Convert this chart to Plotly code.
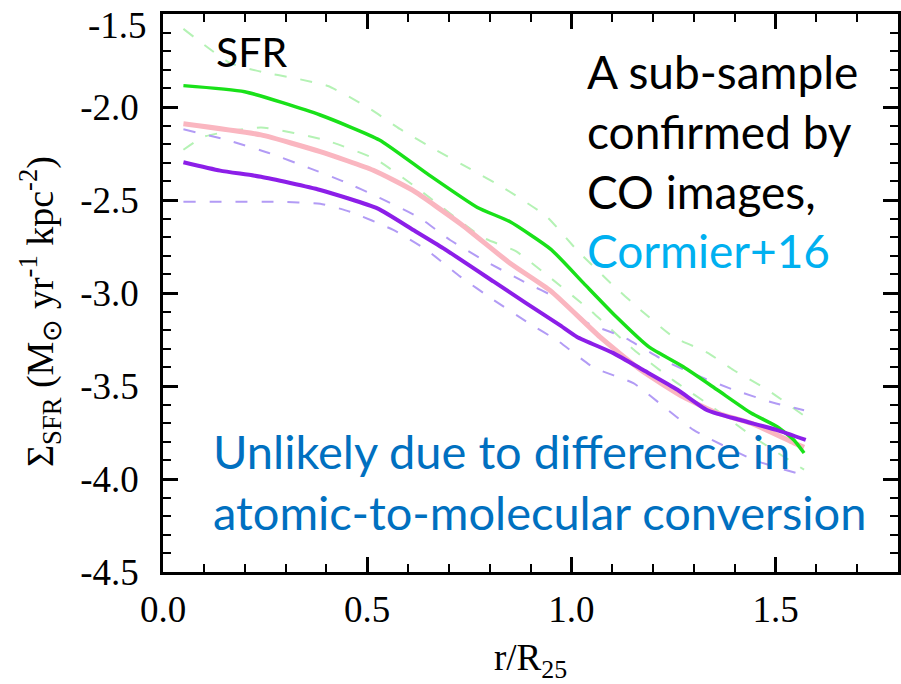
import plotly.graph_objects as go

# ---------------- data ----------------
green_x = [0.05, 0.20, 0.385, 0.53, 0.646, 0.77, 0.85, 0.95, 1.03, 1.11, 1.19, 1.275, 1.357, 1.44, 1.505, 1.545, 1.57]
green_y = [-1.885, -1.918, -2.043, -2.177, -2.357, -2.54, -2.617, -2.765, -2.947, -3.128, -3.29, -3.398, -3.52, -3.645, -3.72, -3.79, -3.86]

pink_x = [0.05, 0.24, 0.385, 0.515, 0.61, 0.73, 0.85, 0.95, 1.07, 1.17, 1.275, 1.357, 1.44, 1.545, 1.57]
pink_y = [-2.09, -2.15, -2.24, -2.34, -2.446, -2.63, -2.84, -2.99, -3.236, -3.414, -3.56, -3.645, -3.70, -3.806, -3.83]

purple_x = [0.05, 0.14, 0.24, 0.385, 0.525, 0.613, 0.687, 0.81, 0.89, 0.97, 1.014, 1.103, 1.176, 1.26, 1.333, 1.414, 1.504, 1.574]
purple_y = [-2.297, -2.342, -2.375, -2.446, -2.545, -2.661, -2.76, -2.939, -3.056, -3.17, -3.236, -3.323, -3.414, -3.52, -3.63, -3.683, -3.737, -3.79]

purple_lo_x = [0.05, 0.28, 0.385, 0.458, 0.564, 0.646, 0.728, 0.81, 0.89, 0.97, 1.054, 1.152, 1.30, 1.45, 1.57]
purple_lo_y = [-2.51, -2.51, -2.52, -2.563, -2.661, -2.769, -2.912, -3.038, -3.154, -3.262, -3.40, -3.485, -3.737, -3.90, -3.98]

purple_hi_x = [0.05, 0.156, 0.262, 0.36, 0.442, 0.532, 0.63, 0.703, 0.785, 0.88, 0.973, 1.039, 1.127, 1.225, 1.316, 1.397, 1.495, 1.57]
purple_hi_y = [-2.12, -2.177, -2.249, -2.33, -2.40, -2.49, -2.598, -2.715, -2.823, -2.935, -3.038, -3.16, -3.236, -3.36, -3.45, -3.52, -3.59, -3.63]

green_hi_x = [0.05, 0.164, 0.243, 0.32, 0.404, 0.50, 0.58, 0.667, 0.75, 0.838, 0.94, 1.014, 1.096, 1.169, 1.25, 1.333, 1.397, 1.48, 1.57]
green_hi_y = [-1.58, -1.763, -1.812, -1.844, -1.887, -2.0, -2.118, -2.23, -2.33, -2.44, -2.59, -2.77, -2.946, -3.09, -3.236, -3.32, -3.414, -3.52, -3.66]

green_lo_x = [0.05, 0.10, 0.24, 0.40, 0.52, 0.625, 0.782, 0.863, 0.944, 1.05, 1.15, 1.25, 1.35, 1.45, 1.57]
green_lo_y = [-2.23, -2.16, -2.11, -2.18, -2.28, -2.44, -2.70, -2.774, -2.91, -3.10, -3.30, -3.47, -3.62, -3.78, -3.95]

x_tickvals = [0.0, 0.5, 1.0, 1.5]
x_ticktext = ["0.0", "0.5", "1.0", "1.5"]
y_tickvals = [-1.5, -2.0, -2.5, -3.0, -3.5, -4.0, -4.5]
# the top label (-1.5) sits a little below its tick in the reference; drawn separately
y_ticktext = ["", "-2.0", "-2.5", "-3.0", "-3.5", "-4.0", "-4.5"]
y_top_label = "-1.5"

# ---------------- figure ----------------
W, H = 901, 684
L, R, T, B = 163, 3, 14, 112
PW, PH = W - L - R, H - T - B


def px(X):
    return (X - L) / PW


def py(Y):
    return (H - B - Y) / PH


fig = go.Figure()

DASH = "12px,14px"
SM = 0.5
fig.add_trace(go.Scatter(x=green_hi_x, y=green_hi_y, mode="lines",
                         line=dict(color="rgb(180,242,180)", width=2, dash=DASH, shape="spline", smoothing=SM)))
fig.add_trace(go.Scatter(x=green_lo_x, y=green_lo_y, mode="lines",
                         line=dict(color="rgb(180,242,180)", width=2, dash=DASH, shape="spline", smoothing=SM)))
fig.add_trace(go.Scatter(x=purple_hi_x, y=purple_hi_y, mode="lines",
                         line=dict(color="rgb(178,155,245)", width=2, dash=DASH, shape="spline", smoothing=SM)))
fig.add_trace(go.Scatter(x=purple_lo_x, y=purple_lo_y, mode="lines",
                         line=dict(color="rgb(178,155,245)", width=2, dash=DASH, shape="spline", smoothing=SM)))
fig.add_trace(go.Scatter(x=pink_x, y=pink_y, mode="lines",
                         line=dict(color="rgb(250,182,192)", width=5, shape="spline", smoothing=SM)))
fig.add_trace(go.Scatter(x=green_x, y=green_y, mode="lines",
                         line=dict(color="rgb(25,225,25)", width=3.5, shape="spline", smoothing=SM)))
fig.add_trace(go.Scatter(x=purple_x, y=purple_y, mode="lines",
                         line=dict(color="rgb(140,30,232)", width=4, shape="spline", smoothing=SM)))

tickfont = dict(family="Liberation Serif", size=37, color="black")
common = dict(showgrid=False, zeroline=False, showline=True, linecolor="black", linewidth=2.5,
              mirror="allticks", ticks="inside", ticklen=15, tickwidth=2.5, tickcolor="black",
              tickfont=tickfont, ticklabeloverflow="allow", automargin=False)

fig.update_layout(
    width=W, height=H,
    margin=dict(l=L, r=R, t=T, b=B),
    paper_bgcolor="white", plot_bgcolor="white",
    showlegend=False,
    xaxis=dict(range=[0, 1.8], tickvals=x_tickvals, ticktext=x_ticktext,
               minor=dict(dtick=0.1, ticks="inside", ticklen=8, tickwidth=2, tickcolor="black"),
               ticklabelstandoff=3,
               title=dict(text="r/R<sub>25</sub>", font=tickfont, standoff=26),
               **common),
    yaxis=dict(range=[-4.5, -1.4999], tickvals=y_tickvals, ticktext=y_ticktext,
               minor=dict(dtick=0.1, ticks="inside", ticklen=8, tickwidth=2, tickcolor="black"),
               ticklabelstandoff=14,
               **common),
)

fig.add_annotation(xref="paper", yref="paper", x=px(149), y=py(26), text=y_top_label,
                   showarrow=False, font=tickfont, xanchor="right", yanchor="middle")

txtfont = "Lato"
fig.add_annotation(xref="paper", yref="paper", x=px(40), y=py(312), textangle=-90,
                   text="Σ<sub>SFR</sub> (M<sub>⊙</sub> yr<sup>-1</sup> kpc<sup>-2</sup>)",
                   showarrow=False, font=dict(family="Liberation Serif", size=38, color="black"),
                   xanchor="center", yanchor="middle")
fig.add_annotation(xref="paper", yref="paper", x=px(214), y=py(51), text="SFR",
                   showarrow=False, font=dict(family=txtfont, size=41, color="black"),
                   xanchor="left", yanchor="middle")
fig.add_annotation(xref="paper", yref="paper", x=px(585), y=py(161),
                   text="A sub-sample<br>confirmed by<br>CO images,<br>"
                        "<span style='color:#00B0F0'>Cormier+16</span>",
                   align="left", showarrow=False, font=dict(family=txtfont, size=46, color="black"),
                   xanchor="left", yanchor="middle")
fig.add_annotation(xref="paper", yref="paper", x=px(211), y=py(481),
                   text="Unlikely due to difference in<br>atomic-to-molecular conversion",
                   align="left", showarrow=False, font=dict(family=txtfont, size=47, color="#0070C0"),
                   xanchor="left", yanchor="middle")

fig.write_html("out.html")
